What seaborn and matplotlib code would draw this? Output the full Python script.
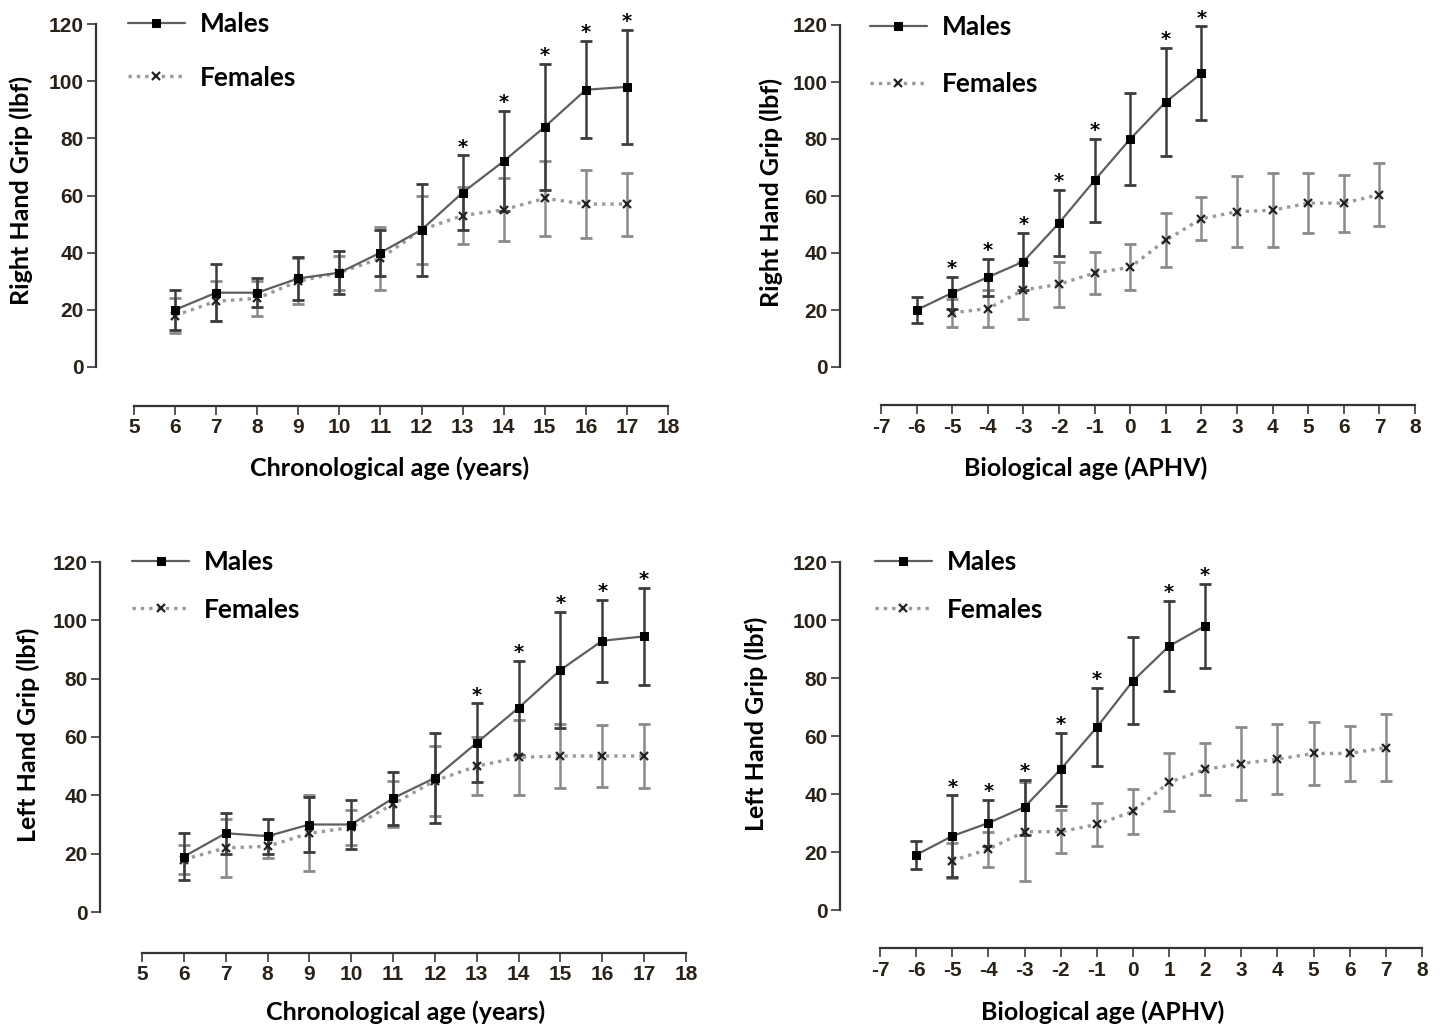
import matplotlib
matplotlib.use("Agg")
import matplotlib.pyplot as plt
import seaborn as sns
import pandas as pd

# ---------------- data ----------------
chrono_age = [6, 7, 8, 9, 10, 11, 12, 13, 14, 15, 16, 17]
chrono_ticks = list(range(5, 19))
bio_age_m = [-6, -5, -4, -3, -2, -1, 0, 1, 2]
bio_age_f = [-5, -4, -3, -2, -1, 0, 1, 2, 3, 4, 5, 6, 7]
bio_ticks = list(range(-7, 9))
y_ticks = [0, 20, 40, 60, 80, 100, 120]

# Right hand grip vs chronological age
rc_m_mean = [20, 26, 26, 31, 33, 40, 48, 61, 72, 84, 97, 98]
rc_m_sd = [7, 10, 5, 7.5, 7.5, 8, 16, 13, 17.5, 22, 17, 20]
rc_f_mean = [18, 23, 24, 30, 33, 38, 48, 53, 55, 59, 57, 57]
rc_f_sd = [6, 7, 6, 8, 6, 11, 12, 10, 11, 13, 12, 11]
rc_sig = [13, 14, 15, 16, 17]

# Right hand grip vs biological age
rb_m_mean = [20, 26, 31.5, 37, 50.5, 65.5, 80, 93, 103]
rb_m_sd = [4.5, 5.5, 6.5, 10, 11.5, 14.5, 16, 19, 16.5]
rb_f_mean = [19, 20.5, 27, 29, 33, 35, 44.5, 52, 54.5, 55, 57.5, 57.5, 60.5]
rb_f_sd = [5, 6.5, 10, 8, 7.5, 8, 9.5, 7.5, 12.5, 13, 10.5, 10, 11]
rb_sig = [-5, -4, -3, -2, -1, 1, 2]

# Left hand grip vs chronological age
lc_m_mean = [19, 27, 26, 30, 30, 39, 46, 58, 70, 83, 93, 94.5]
lc_m_sd = [8, 7, 6, 9.5, 8.5, 9, 15.5, 13.5, 16, 20, 14, 16.5]
lc_f_mean = [18, 22, 22.5, 27, 29, 37, 45, 50, 53, 53.5, 53.5, 53.5]
lc_f_sd = [5, 10, 4, 13, 6, 8, 12, 10, 13, 11, 10.5, 11]
lc_sig = [13, 14, 15, 16, 17]

# Left hand grip vs biological age
lb_m_mean = [19, 25.5, 30, 35.5, 48.5, 63, 79, 91, 98]
lb_m_sd = [4.7, 14, 8, 9.5, 12.5, 13.5, 15, 15.5, 14.5]
lb_f_mean = [17, 21, 27, 27, 29.5, 34, 44, 48.5, 50.5, 52, 54, 54, 56]
lb_f_sd = [6, 6, 17, 7.5, 7.3, 7.8, 10, 9, 12.7, 12, 11, 9.6, 11.5]
lb_sig = [-5, -4, -3, -2, -1, 1, 2]

sex_labels = ["Males", "Females"]
xlabel_chrono = "Chronological age (years)"
xlabel_bio = "Biological age (APHV)"
ylabel_right = "Right Hand Grip (lbf)"
ylabel_left = "Left Hand Grip (lbf)"

# ---------------- style ----------------
sns.set_theme(style="ticks")
plt.rcParams["font.family"] = ["Liberation Sans", "DejaVu Sans"]
plt.rcParams["axes.unicode_minus"] = False

LABEL_FONT = ["Lato", "DejaVu Sans"]
TICK_COLOR = "#2a2218"

fig = plt.figure(figsize=(14.4, 10.29), dpi=100)


def panel(rect, xm, mm, ms, xf, fm, fs, sig, xticks, xlabel, ylabel,
          spine_off, xlab_pos, ylab_pos, leg_pos, leg_spacing):
    ax = fig.add_axes(rect)
    dm = pd.DataFrame({"x": xm, "y": mm})
    df = pd.DataFrame({"x": xf, "y": fm})
    sns.lineplot(data=dm, x="x", y="y", ax=ax, color="#5e5e5e", lw=1.6,
                 marker="s", markersize=6, markerfacecolor="black",
                 markeredgecolor="black", label=sex_labels[0], zorder=4)
    sns.lineplot(data=df, x="x", y="y", ax=ax, color="#9a9a9a", lw=2.4,
                 linestyle=(0, (1, 1.5)), marker="x", markersize=6,
                 markeredgewidth=1.6, markeredgecolor="#222222",
                 label=sex_labels[1], zorder=3)
    handles = list(ax.lines[:2])
    ax.errorbar(xf, fm, yerr=fs, fmt="none", ecolor="#8a8a8a",
                elinewidth=1.8, capsize=4, capthick=2.0, zorder=2)
    ax.errorbar(xm, mm, yerr=ms, fmt="none", ecolor="#3c3c3c",
                elinewidth=1.8, capsize=4, capthick=2.0, zorder=2.5)
    for xv, mv, sv in zip(xm, mm, ms):
        if xv in sig:
            ax.text(xv, mv + sv + 1.0, "*", ha="center", va="baseline",
                    fontsize=14, fontweight="bold", color="black",
                    family=["DejaVu Sans"], clip_on=False)

    ax.set_xlim(xticks[0], xticks[-1])
    ax.set_ylim(0, 120)
    ax.set_xticks(xticks)
    ax.set_yticks(y_ticks)
    sns.despine(ax=ax)
    ax.spines["left"].set_position(("outward", spine_off[0]))
    ax.spines["bottom"].set_position(("outward", spine_off[1]))
    ax.spines["left"].set_bounds(0, 120)
    ax.spines["bottom"].set_bounds(xticks[0], xticks[-1])
    for s in ("left", "bottom"):
        ax.spines[s].set_color("#333333")
        ax.spines[s].set_linewidth(1.6)
    ax.tick_params(axis="both", direction="out", length=6.5, width=1.4,
                   color="#555555", labelsize=15, labelcolor=TICK_COLOR,
                   pad=2.5)
    for lab in ax.get_xticklabels() + ax.get_yticklabels():
        lab.set_fontweight("bold")

    ax.set_xlabel(xlabel, fontsize=18, fontweight="bold", family=LABEL_FONT,
                  color="black")
    ax.set_ylabel(ylabel, fontsize=18, fontweight="bold", family=LABEL_FONT,
                  color="black")
    ax.xaxis.set_label_coords(*xlab_pos)
    ax.yaxis.set_label_coords(*ylab_pos)

    leg = ax.legend(handles=handles, labels=sex_labels, loc="upper left",
                    bbox_to_anchor=leg_pos, frameon=False, borderpad=0,
                    borderaxespad=0, handlelength=2.15, handletextpad=0.57,
                    labelspacing=leg_spacing,
                    prop={"family": LABEL_FONT, "weight": "bold", "size": 19})
    for t in leg.get_texts():
        t.set_color("black")
    return ax


panel([134 / 1440, 1 - 367 / 1029, 534 / 1440, 343 / 1029],
      chrono_age, rc_m_mean, rc_m_sd, chrono_age, rc_f_mean, rc_f_sd, rc_sig,
      chrono_ticks, xlabel_chrono, ylabel_right,
      (27.4, 28.0), (0.479, -0.262), (-0.189, 0.516), (-0.011, 1.035), 1.12)

panel([881 / 1440, 1 - 367 / 1029, 534 / 1440, 342 / 1029],
      bio_age_m, rb_m_mean, rb_m_sd, bio_age_f, rb_f_mean, rb_f_sd, rb_sig,
      bio_ticks, xlabel_bio, ylabel_right,
      (29.5, 27.4), (0.384, -0.262), (-0.1835, 0.509), (-0.021, 1.03), 1.27)

panel([142 / 1440, 1 - 912 / 1029, 544 / 1440, 350 / 1029],
      chrono_age, lc_m_mean, lc_m_sd, chrono_age, lc_f_mean, lc_f_sd, lc_sig,
      chrono_ticks, xlabel_chrono, ylabel_left,
      (30.2, 29.5), (0.485, -0.254), (-0.1875, 0.506), (-0.018, 1.035), 0.9)

panel([880 / 1440, 1 - 910 / 1029, 542 / 1440, 348 / 1029],
      bio_age_m, lb_m_mean, lb_m_sd, bio_age_f, lb_f_mean, lb_f_sd, lb_sig,
      bio_ticks, xlabel_bio, ylabel_left,
      (28.8, 27.4), (0.411, -0.26), (-0.2066, 0.534), (-0.009, 1.035), 0.9)

fig.savefig("out.png", dpi=100, facecolor="white")
